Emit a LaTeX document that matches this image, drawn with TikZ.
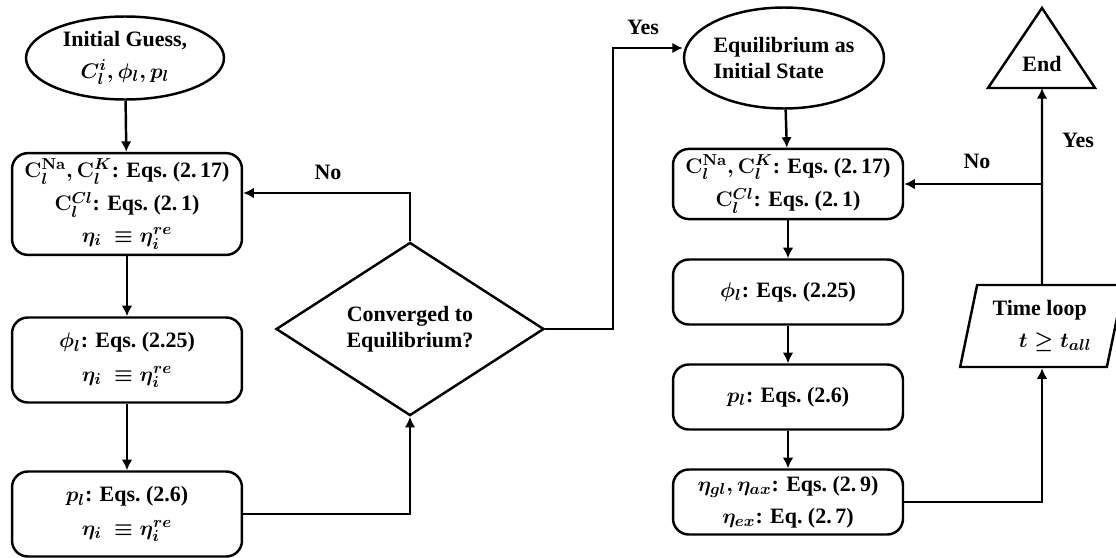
\documentclass[tikz,border=0pt]{standalone}
\usepackage{fontspec}
\setmainfont{Liberation Serif}
\usetikzlibrary{shapes.geometric,arrows.meta}

\begin{document}
\begin{tikzpicture}[x=0.02cm,y=-0.02cm,
		every node/.style={font=\fontsize{12.5}{15}\selectfont\bfseries\boldmath,align=center},
		link/.style={line width=1.4pt,-{Latex[length=6pt,width=6pt]}},
		proc/.style={draw,line width=1.4pt,rounded corners=9pt,minimum width=4.6cm},
		initell/.style={draw,ellipse,line width=1.4pt,inner sep=0pt},
		decide/.style={draw,diamond,line width=1.4pt,inner sep=0pt,minimum width=5.36cm,minimum height=2.44cm},
		looppar/.style={draw,trapezium,trapezium left angle=77,trapezium right angle=103,
			trapezium stretches=true,line width=1.4pt,minimum width=3.3cm,minimum height=1.64cm},
		endtri/.style={line width=1.4pt,line join=miter}]
	\useasboundingbox (0,0) rectangle (1116,558);

	%left column: equilibrium iteration
	\node[initell,minimum width=3.96cm,minimum height=1.66cm] (guess) at (125,58)
		{Initial Guess,\\[3pt] $C_l^i,\phi_l,p_l$};
	\node[proc,minimum height=1.7cm] (cone) at (127,204)
		{$\mathbf{C}_l^{\mathbf{Na}},\mathbf{C}_l^{K}$: Eqs.\ (2.\,17)\\[4pt]
		 $\mathbf{C}_l^{Cl}$: Eqs.\ (2.\,1)\\[3pt] $\eta_i\ \equiv\eta_i^{re}$};
	\node[proc,minimum height=1.7cm] (phione) at (127,360)
		{$\phi_l$: Eqs.\ (2.25)\\[4pt] $\eta_i\ \equiv\eta_i^{re}$};
	\node[proc,minimum height=1.7cm] (pone) at (127,514)
		{$p_l$: Eqs.\ (2.6)\\[4pt] $\eta_i\ \equiv\eta_i^{re}$};
	\node[decide] (conv) at (410,329) {Converged to\\ Equilibrium?};

	%right column: time stepping
	\node[initell,minimum width=4cm,minimum height=2.02cm,align=left] (equil) at (784,58)
		{Equilibrium as\\ Initial State};
	\node[proc,minimum height=1.36cm] (ctwo) at (788,184)
		{$\mathbf{C}_l^{\mathbf{Na}},\mathbf{C}_l^{K}$: Eqs.\ (2.\,17)\\[4pt]
		 $\mathbf{C}_l^{Cl}$: Eqs.\ (2.\,1)};
	\node[proc,minimum height=1.3cm] (phitwo) at (788,292) {$\phi_l$: Eqs.\ (2.25)};
	\node[proc,minimum height=1.3cm] (ptwo) at (788,397) {$p_l$: Eqs.\ (2.6)};
	\node[proc,minimum height=1.3cm] (eta) at (788,502)
		{$\eta_{gl},\eta_{ax}$: Eqs.\ (2.\,9)\\[3pt] $\eta_{ex}$: Eq.\ (2.\,7)};
	\node[looppar,align=left] (loop) at (1042,326) {Time loop\\[3pt] \hspace{1.2em}$t\geq t_{all}$};

	%end triangle
	\coordinate (apex) at (1042,8);
	\coordinate (baseL) at (988,88);
	\coordinate (baseR) at (1095,88);
	\coordinate (endbase) at (1042,88);
	\draw[endtri] (apex) -- (baseR) -- (baseL) -- cycle;
	\node (endtxt) at (1042,64) {End};

	%connectors
	\draw[link] (guess) -- (cone);
	\draw[link] (cone) -- (phione);
	\draw[link] (phione) -- (pone);
	\draw[link] (pone.east) -| (conv.south);
	\draw[link] (conv.north) |- ([yshift=0.22cm]cone.east);
	\coordinate (yesbend) at (613,48);
	\draw[link] (conv.east) -| (yesbend) -- (yesbend -| equil.west);
	\draw[link] (equil) -- (ctwo);
	\draw[link] (ctwo) -- (phitwo);
	\draw[link] (phitwo) -- (ptwo);
	\draw[link] (ptwo) -- (eta);
	\draw[link] (eta.east) -| (loop.south);
	\draw[link] (loop) -- (endbase);
	\coordinate (split) at (loop.north |- ctwo.east);
	\draw[link] (split) -- (ctwo.east);

	%branch labels
	\node (nolft) at (328,172) {No};
	\node (yeslft) at (643,27) {Yes};
	\node (norgt) at (977,161) {No};
	\node (yesrgt) at (1078,140) {Yes};
\end{tikzpicture}
\end{document}
